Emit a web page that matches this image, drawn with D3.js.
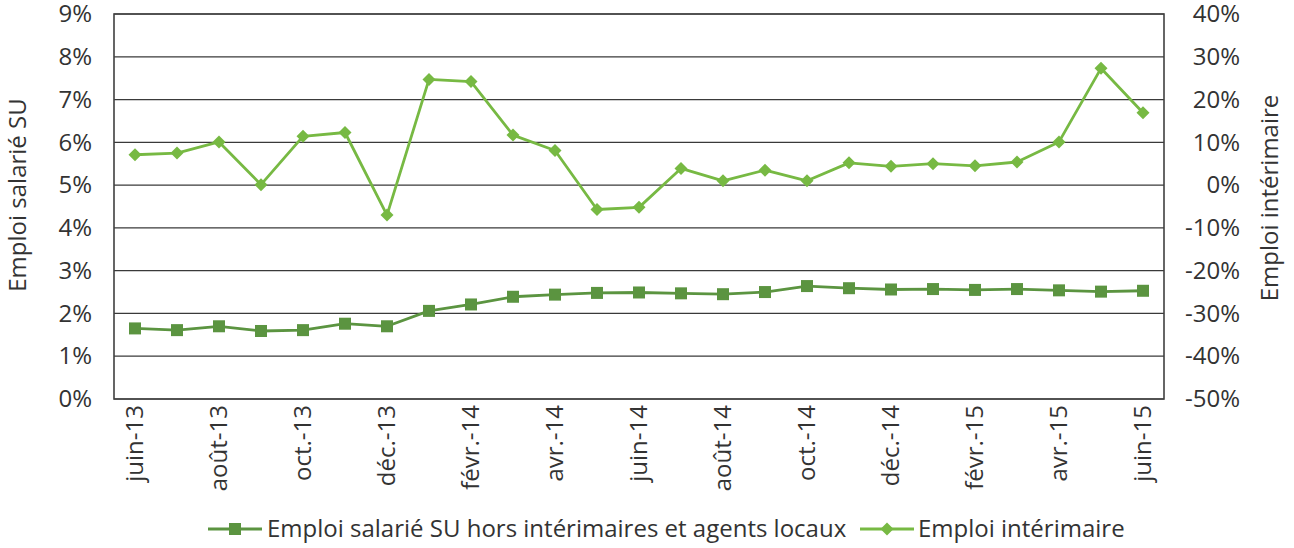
<!DOCTYPE html>
<html>
<head>
<meta charset="utf-8">
<script src="https://cdn.jsdelivr.net/npm/d3@7"></script>
<style>
  html, body { margin: 0; padding: 0; background: #fff; }
  svg { display: block; font-family: "Open Sans", sans-serif; }
</style>
</head>
<body>
<svg id="chart" width="1294" height="548"></svg>
<script>
const months = ["juin-13","juil.-13","août-13","sept.-13","oct.-13","nov.-13","déc.-13",
  "janv.-14","févr.-14","mars-14","avr.-14","mai-14","juin-14","juil.-14","août-14",
  "sept.-14","oct.-14","nov.-14","déc.-14","janv.-15","févr.-15","mars-15","avr.-15","mai-15","juin-15"];
const shownLabels = ["juin-13","août-13","oct.-13","déc.-13","févr.-14","avr.-14","juin-14",
  "août-14","oct.-14","déc.-14","févr.-15","avr.-15","juin-15"];
// Emploi salarié SU hors intérimaires et agents locaux (left axis, %)
const salarie = [1.65,1.61,1.70,1.59,1.61,1.76,1.70,2.06,2.21,2.39,2.44,2.48,2.49,
  2.47,2.45,2.50,2.64,2.59,2.56,2.57,2.55,2.57,2.54,2.51,2.53];
// Emploi intérimaire (right axis, %)
const interim = [7.1,7.5,10.1,0.1,11.4,12.3,-7.0,24.7,24.2,11.7,8.1,-5.7,-5.2,
  3.9,1.0,3.5,1.0,5.2,4.4,5.0,4.5,5.4,10.1,27.3,16.9];
const leftTicks = [0,1,2,3,4,5,6,7,8,9];
const rightTicks = [-50,-40,-30,-20,-10,0,10,20,30,40];
const seriesNames = ["Emploi salarié SU hors intérimaires et agents locaux","Emploi intérimaire"];
const colors = ["#5b9440","#77b943"];

const FS = 24;
const svg = d3.select("#chart");
const L = 114, R = 1164, T = 14, B = 399;

const x = d3.scaleBand().domain(months).range([L, R]).padding(0);
const yL = d3.scaleLinear().domain([0, 9]).range([B, T]);
const yR = d3.scaleLinear().domain([-50, 40]).range([B, T]);
const cx = d => x(d) + x.bandwidth() / 2;

// gridlines
svg.append("g").selectAll("line").data(leftTicks).join("line")
  .attr("x1", L).attr("x2", R)
  .attr("y1", d => yL(d)).attr("y2", d => yL(d))
  .attr("stroke", "#3a3a3a").attr("stroke-width", 1.2);

// plot border
svg.append("rect").attr("x", L).attr("y", T).attr("width", R - L).attr("height", B - T)
  .attr("fill", "none").attr("stroke", "#404040").attr("stroke-width", 1.6);

// left axis
const gL = svg.append("g").attr("transform", `translate(${L - 22},0)`)
  .call(d3.axisLeft(yL).tickValues(leftTicks).tickSize(0).tickFormat(d => d + "%"));
gL.select(".domain").remove();
gL.selectAll("text").attr("x", 0).attr("font-size", FS).attr("fill", "#333")
  .attr("font-family", "Open Sans, sans-serif");

// right axis
const gR = svg.append("g").attr("transform", `translate(1240,0)`)
  .call(d3.axisLeft(yR).tickValues(rightTicks).tickSize(0).tickFormat(d => d + "%"));
gR.select(".domain").remove();
gR.selectAll("text").attr("x", 0).attr("font-size", FS).attr("fill", "#333")
  .attr("font-family", "Open Sans, sans-serif");

// bottom axis
const gB = svg.append("g").attr("transform", `translate(0,${B})`)
  .call(d3.axisBottom(x).tickValues(shownLabels).tickSize(0));
gB.select(".domain").remove();
gB.selectAll("text")
  .attr("font-size", FS).attr("fill", "#333").attr("font-family", "Open Sans, sans-serif")
  .attr("text-anchor", "end")
  .attr("transform", "rotate(-90)")
  .attr("x", -6).attr("y", 0).attr("dy", "0.35em");

// axis titles
svg.append("text").attr("transform", `translate(26,195) rotate(-90)`)
  .attr("text-anchor", "middle").attr("font-size", FS).attr("fill", "#333")
  .text("Emploi salarié SU");
svg.append("text").attr("transform", `translate(1278,198) rotate(-90)`)
  .attr("text-anchor", "middle").attr("font-size", FS).attr("fill", "#333")
  .text("Emploi intérimaire");

// lines
const lineL = d3.line().x((d, i) => cx(months[i])).y(d => yL(d));
const lineR = d3.line().x((d, i) => cx(months[i])).y(d => yR(d));
svg.append("path").datum(salarie).attr("d", lineL).attr("fill", "none")
  .attr("stroke", colors[0]).attr("stroke-width", 2.8).attr("stroke-linejoin", "round");
svg.append("path").datum(interim).attr("d", lineR).attr("fill", "none")
  .attr("stroke", colors[1]).attr("stroke-width", 2.8).attr("stroke-linejoin", "round");

const sq = 12;
const diamond = r => `M0,${-r}L${r},0L0,${r}L${-r},0Z`;
svg.append("g").selectAll("rect").data(salarie).join("rect")
  .attr("x", (d, i) => cx(months[i]) - sq / 2).attr("y", d => yL(d) - sq / 2)
  .attr("width", sq).attr("height", sq).attr("fill", colors[0]);
svg.append("g").selectAll("path").data(interim).join("path")
  .attr("transform", (d, i) => `translate(${cx(months[i])},${yR(d)})`)
  .attr("d", diamond(6.5)).attr("fill", colors[1]);

// legend
const ly = 529;
const lg1 = svg.append("g");
lg1.append("line").attr("x1", 208).attr("x2", 262).attr("y1", ly).attr("y2", ly)
  .attr("stroke", colors[0]).attr("stroke-width", 2.8);
lg1.append("rect").attr("x", 235 - sq / 2).attr("y", ly - sq / 2).attr("width", sq).attr("height", sq)
  .attr("fill", colors[0]);
lg1.append("text").attr("x", 267).attr("y", ly).attr("dy", "0.35em").attr("font-size", FS)
  .attr("fill", "#333").text(seriesNames[0]);
const lg2 = svg.append("g");
lg2.append("line").attr("x1", 860).attr("x2", 914).attr("y1", ly).attr("y2", ly)
  .attr("stroke", colors[1]).attr("stroke-width", 2.8);
lg2.append("path").attr("transform", `translate(887,${ly})`).attr("d", diamond(6.5))
  .attr("fill", colors[1]);
lg2.append("text").attr("x", 918).attr("y", ly).attr("dy", "0.35em").attr("font-size", FS)
  .attr("fill", "#333").text(seriesNames[1]);
</script>
</body>
</html>
